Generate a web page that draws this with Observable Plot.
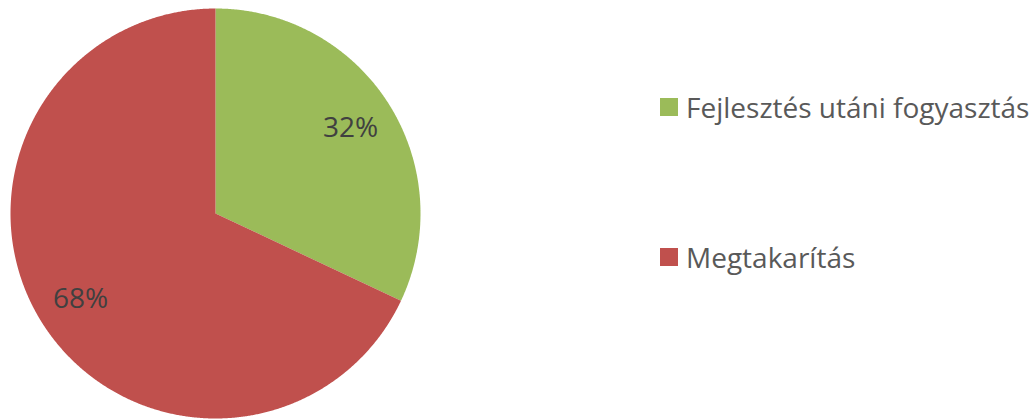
<!DOCTYPE html>
<html><head><meta charset="utf-8">
<script src="https://cdn.jsdelivr.net/npm/d3@7"></script>
<script src="https://cdn.jsdelivr.net/npm/@observablehq/plot@0.6"></script>
<style>
html,body{margin:0;padding:0;background:#fff;}
#wrap{position:relative;width:1032px;height:419px;overflow:hidden;font-family:"Open Sans",sans-serif;}
#chart{position:absolute;left:0;top:0;}
.leg{position:absolute;left:660px;display:flex;align-items:center;font-size:28px;line-height:30px;color:#595959;white-space:nowrap;}
.sw{width:18px;height:18px;margin-right:8px;}
</style></head>
<body><div id="wrap"><div id="chart"></div><div id="legend"></div></div>
<script>
const categories = ["Fejlesztés utáni fogyasztás", "Megtakarítás"];
const values = [32, 68];
const labels = ["32%", "68%"];
const colors = ["#9BBB59", "#C0504D"];

const R = 205; // px per unit radius
const arcs = d3.pie().sort(null).value(d => d)(values);

// polygon outlines for each slice (geometry sampled along the arc)
const poly = [];
arcs.forEach((a, i) => {
  poly.push({name: categories[i], x: 0, y: 0});
  const n = Math.max(2, Math.ceil((a.endAngle - a.startAngle) / 0.005));
  for (let k = 0; k <= n; k++) {
    const t = a.startAngle + (a.endAngle - a.startAngle) * k / n;
    poly.push({name: categories[i], x: Math.sin(t), y: Math.cos(t)});
  }
  poly.push({name: categories[i], x: 0, y: 0});
});
const lab = arcs.map((a, i) => {
  const m = (a.startAngle + a.endAngle) / 2;
  return {text: labels[i], x: 0.78 * Math.sin(m), y: 0.78 * Math.cos(m)};
});

const W = 430, H = 419, cx = 215, cy = 213;
const plot = Plot.plot({
  width: W, height: H, margin: 0,
  x: {domain: [-cx / R, (W - cx) / R], range: [0, W], axis: null},
  y: {domain: [-(H - cy) / R, cy / R], range: [H, 0], axis: null},
  color: {domain: categories, range: colors},
  marks: [
    Plot.line(poly, {x: "x", y: "y", z: "name", fill: "name", stroke: "white", strokeWidth: 0, curve: "linear"}),
    Plot.text(lab, {x: "x", y: "y", text: "text", fill: "#404040", fontSize: 28, fontFamily: "Open Sans"})
  ]
});
document.getElementById("chart").appendChild(plot);

const tops = [92, 242];
const leg = document.getElementById("legend");
categories.forEach((c, i) => {
  const d = document.createElement("div");
  d.className = "leg";
  d.style.top = tops[i] + "px";
  d.innerHTML = `<div class="sw" style="background:${colors[i]}"></div><span>${c}</span>`;
  leg.appendChild(d);
});
</script></body></html>
